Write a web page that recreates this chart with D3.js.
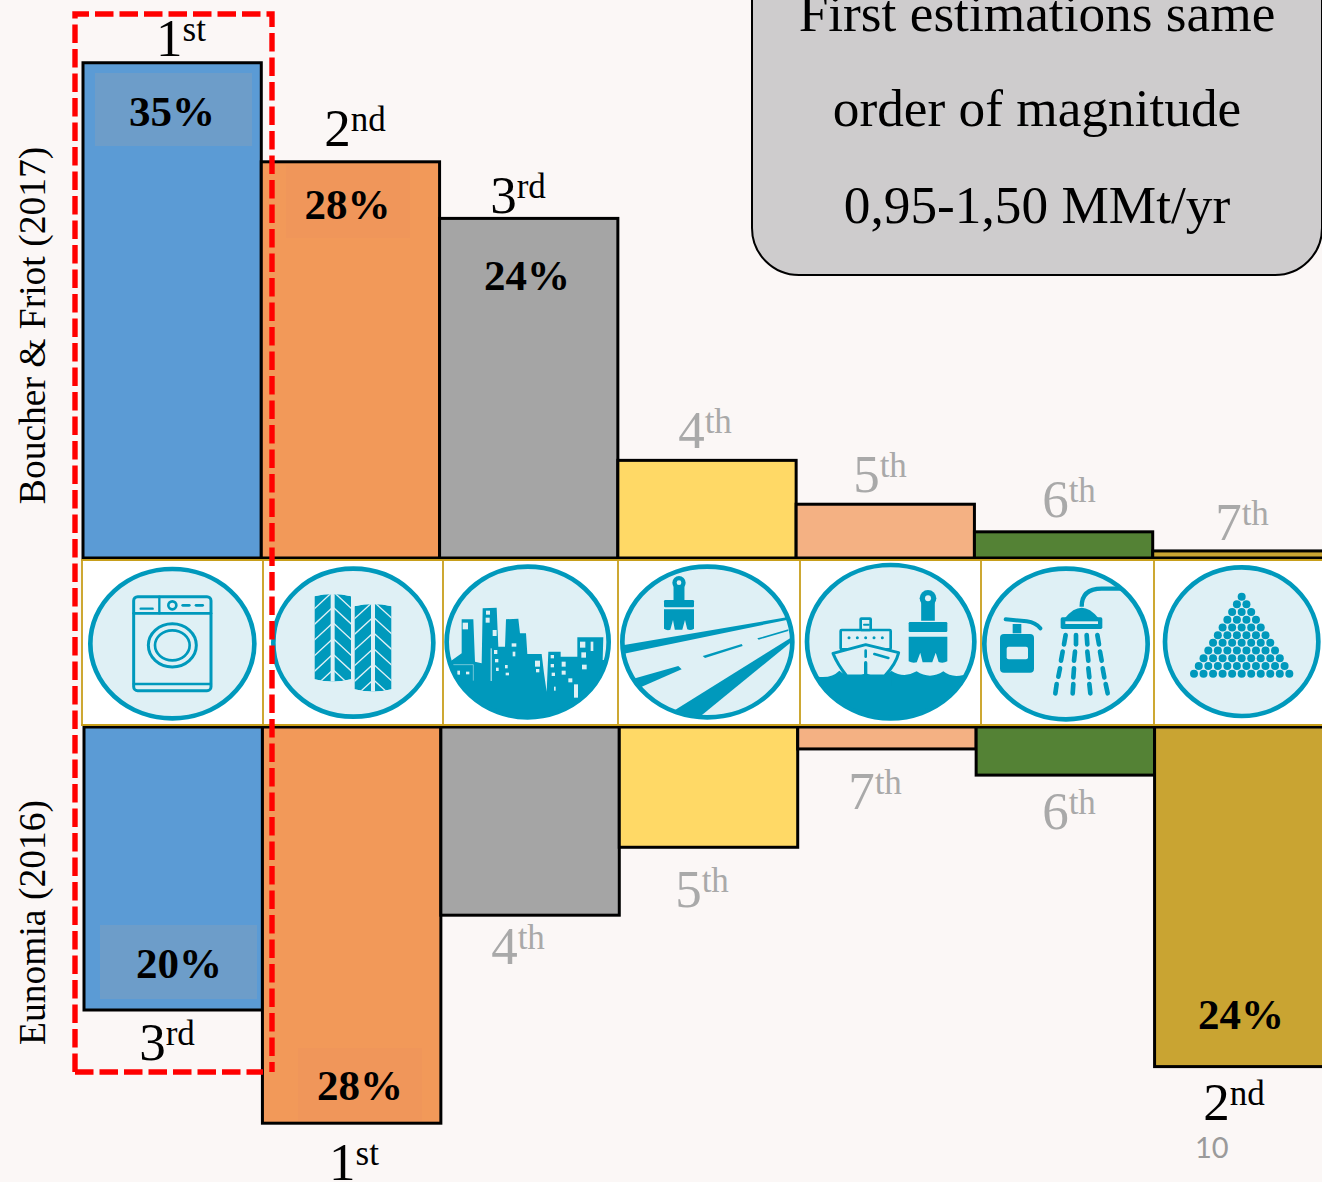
<!DOCTYPE html>
<html>
<head>
<meta charset="utf-8">
<script src="https://cdn.jsdelivr.net/npm/d3@7/dist/d3.min.js"></script>
<style>
  html, body { margin: 0; padding: 0; background: #fbf7f6; overflow: hidden; }
  svg { display: block; }
  text { font-family: "Liberation Serif", "Times New Roman", serif; }
</style>
</head>
<body>
<svg id="chart" width="1322" height="1182"></svg>
<script>
// Microplastic sources ranked by share in two estimates.
const sources = ["Laundry", "Tyres", "City dust", "Road markings", "Marine coatings", "Personal care", "Pellets"];
const boucherShares = [35, 28, 24, 6.9, 3.8, 1.85, 0.5];
const eunomiaShares = [20, 28, 13.3, 8.5, 1.55, 3.4, 24];
const boucherRanks = ["1st", "2nd", "3rd", "4th", "5th", "6th", "7th"];
const eunomiaRanks = ["3rd", "1st", "4th", "5th", "7th", "6th", "2nd"];
const statedShares = {boucher: [35, 28, 24], eunomia: [20, 28, null, null, null, null, 24]};
const calloutLines = ["First estimations same", "order of magnitude", "0,95-1,50 MMt/yr"];
const sourceColors = ["#5b9bd5", "#f29959", "#a5a5a5", "#ffd966", "#f4b183", "#548235", "#c9a432"];

const TEAL = "#0099bc", PALE = "#dff0f5", GOLD = "#c89f1c";
const svg = d3.select("#chart");

const xUpper = d3.scaleBand().domain(sources).range([83, 1331]);
const xLower = d3.scaleBand().domain(sources).range([84, 1333]);
const shareHeight = d3.scaleLinear().domain([0, 35]).range([0, 495.25]);
const TOP_BASE = 558, BOTTOM_BASE = 727;

// Bars above and below the icon strip
const barLayer = svg.append("g").attr("stroke", "#000").attr("stroke-width", 3);
barLayer.selectAll("rect.top").data(sources).join("rect").attr("class", "top")
  .attr("x", d => xUpper(d)).attr("width", xUpper.bandwidth())
  .attr("y", (d, i) => TOP_BASE - shareHeight(boucherShares[i]))
  .attr("height", (d, i) => shareHeight(boucherShares[i]))
  .attr("fill", (d, i) => sourceColors[i]);
barLayer.selectAll("rect.bottom").data(sources).join("rect").attr("class", "bottom")
  .attr("x", d => xLower(d)).attr("width", xLower.bandwidth())
  .attr("y", BOTTOM_BASE)
  .attr("height", (d, i) => shareHeight(eunomiaShares[i]))
  .attr("fill", (d, i) => sourceColors[i]);

// Soft plates behind the headline percentages
[[95, 73, 157, 73, "#6d9dc9"], [286, 165, 124, 73, "#f0965a"],
 [100, 925, 157, 74, "#6d9dc9"], [298, 1048, 124, 73, "#f0965a"]].forEach(p => {
  svg.append("rect").attr("x", p[0]).attr("y", p[1]).attr("width", p[2]).attr("height", p[3]).attr("fill", p[4]);
});

// Icon strip
const strip = svg.append("g");
strip.append("rect").attr("x", 81).attr("y", 560).attr("width", 1250).attr("height", 165).attr("fill", "#fff");
[82, 263, 443, 618, 800, 981, 1154].forEach(e =>
  strip.append("line").attr("x1", e).attr("x2", e).attr("y1", 560).attr("y2", 725)
    .attr("stroke", GOLD).attr("stroke-width", 1.8));
[560, 725].forEach(y =>
  strip.append("line").attr("x1", 81).attr("x2", 1322).attr("y1", y).attr("y2", y)
    .attr("stroke", GOLD).attr("stroke-width", 2));

// Each icon is drawn in a 3x local grid, then scaled down into its cell.
function iconGroup(ox, oy, id, cx, cy, rx, ry) {
  const g = strip.append("g").attr("transform", `translate(${ox},${oy}) scale(${1 / 3})`);
  g.append("clipPath").attr("id", id).append("ellipse")
    .attr("cx", cx).attr("cy", cy).attr("rx", rx).attr("ry", ry);
  g.append("ellipse").attr("cx", cx).attr("cy", cy).attr("rx", rx).attr("ry", ry).attr("fill", PALE);
  const inner = g.append("g").attr("clip-path", `url(#${id})`);
  g.ring = () => g.append("ellipse").attr("cx", cx).attr("cy", cy).attr("rx", rx).attr("ry", ry)
    .attr("fill", "none").attr("stroke", TEAL).attr("stroke-width", 14);
  g.inner = inner;
  return g;
}
const line = (g, x1, y1, x2, y2, w, col) => g.append("line")
  .attr("x1", x1).attr("y1", y1).attr("x2", x2).attr("y2", y2)
  .attr("stroke", col || TEAL).attr("stroke-width", w).attr("stroke-linecap", "round");
const poly = (g, pts, col) => g.append("polygon").attr("points", pts.map(p => p.join(",")).join(" ")).attr("fill", col || TEAL);
const box = (g, x0, y0, w, h, r, fill, stroke, sw) => g.append("rect")
  .attr("x", x0).attr("y", y0).attr("width", w).attr("height", h).attr("rx", r)
  .attr("fill", fill).attr("stroke", stroke || "none").attr("stroke-width", sw || 0);
const blob = (g, cx, cy, r, col) => g.append("circle").attr("cx", cx).attr("cy", cy).attr("r", r).attr("fill", col || TEAL);

// Washing machine
{
  const g = iconGroup(60, 540, "clip-wash", 337, 311, 246, 224);
  const n = g.inner;
  box(n, 221, 170, 232, 282, 12, "none", TEAL, 9);
  line(n, 221, 220, 453, 220, 8);
  line(n, 298, 170, 298, 220, 7);
  line(n, 242, 206, 278, 206, 7);
  n.append("circle").attr("cx", 337).attr("cy", 196).attr("r", 12).attr("fill", "none").attr("stroke", TEAL).attr("stroke-width", 8);
  line(n, 368, 196, 388, 196, 8);
  line(n, 408, 196, 428, 196, 8);
  n.append("ellipse").attr("cx", 337).attr("cy", 316).attr("rx", 72).attr("ry", 65).attr("fill", "none").attr("stroke", TEAL).attr("stroke-width", 9);
  n.append("ellipse").attr("cx", 337).attr("cy", 316).attr("rx", 52).attr("ry", 45).attr("fill", "none").attr("stroke", TEAL).attr("stroke-width", 8);
  line(n, 221, 432, 453, 432, 7);
  g.ring();
}

// Tyres
{
  const g = iconGroup(60, 540, "clip-tyre", 880, 308, 240, 222);
  const tyre = (x0, x1, y0, y1, id) => {
    const xm = (x0 + x1) / 2;
    const shape = `M${x0},${y0 + 6} Q${xm},${y0 - 8} ${x1},${y0 + 6} L${x1},${y1 - 6} Q${xm},${y1 + 8} ${x0},${y1 - 6} Z`;
    g.append("clipPath").attr("id", id).append("path").attr("d", shape);
    const t = g.append("g").attr("clip-path", `url(#${id})`);
    t.append("path").attr("d", shape).attr("fill", TEAL);
    for (let k = 0; k < 7; k++) {
      const y = y0 - 5 + k * 47;
      line(t, x0 - 4, y + 52, xm - 3, y, 4, PALE);
      line(t, xm + 3, y - 2, x1 + 4, y + 50, 4, PALE);
    }
    t.append("rect").attr("x", xm - 6).attr("y", y0 - 10).attr("width", 12).attr("height", y1 - y0 + 20).attr("fill", PALE);
  };
  tyre(763, 873, 163, 424, "tyre-a");
  tyre(883, 995, 193, 454, "tyre-b");
  g.ring();
}

// City skyline
{
  const g = iconGroup(440, 540, "clip-city", 263, 306, 243, 226);
  poly(g.inner, [[20, 372], [65, 340], [65, 238], [100, 238], [105, 365], [125, 370], [128, 205], [170, 203], [175, 320],
    [195, 320], [198, 238], [235, 236], [240, 280], [258, 280], [262, 342], [305, 342], [312, 400], [320, 455], [325, 335],
    [362, 335], [362, 350], [412, 350], [412, 292], [490, 292], [488, 360], [530, 360], [530, 560], [0, 560], [0, 372]]);
  [[68, 248, 16, 20], [138, 212, 12, 12], [137, 233, 12, 15], [158, 270, 12, 18], [215, 310, 14, 10], [218, 335, 8, 14],
   [162, 330, 10, 12], [165, 357, 10, 10], [168, 383, 8, 10], [195, 375, 8, 10], [197, 398, 10, 8], [285, 362, 15, 18],
   [288, 387, 10, 10], [332, 345, 10, 10], [332, 372, 10, 10], [335, 398, 10, 10], [365, 365, 12, 15], [365, 392, 12, 12],
   [385, 415, 12, 12], [420, 305, 16, 18], [452, 305, 8, 28], [424, 337, 14, 16], [426, 374, 14, 14], [402, 433, 12, 40],
   [342, 440, 5, 12], [52, 392, 8, 12], [78, 395, 10, 8], [152, 325, 3, 98]].forEach(w =>
    g.inner.append("rect").attr("x", w[0]).attr("y", w[1]).attr("width", w[2]).attr("height", w[3]).attr("fill", PALE));
  g.inner.append("path").attr("d", "M40,374 H100 V422").attr("fill", "none").attr("stroke", PALE).attr("stroke-width", 1.5);
  g.ring();
}

// Paint brush shared by the road and ship icons
function brush(n, cx, loopY, loopR, holeR, neckY, ferruleY, ferruleH, halfW, brY, brH) {
  const w = loopR * 0.82;
  poly(n, [[cx - w, loopY + 6], [cx + w, loopY + 6], [cx + w * 1.0, neckY], [cx - w * 1.0, neckY]]);
  blob(n, cx, loopY, loopR);
  blob(n, cx, loopY, holeR, PALE);
  box(n, cx - halfW, ferruleY, halfW * 2, ferruleH, 4, TEAL);
  const b = brY + brH;
  n.append("path").attr("d",
    `M${cx - halfW},${brY} H${cx + halfW} V${b - 4} Q${cx + halfW * 0.78},${b + 3} ${cx + halfW * 0.55},${b - 2}
     L${cx + halfW * 0.4},${b - 30} L${cx + halfW * 0.22},${b - 1} L${cx - halfW * 0.28},${b - 1} L${cx - halfW * 0.4},${b - 30}
     L${cx - halfW * 0.58},${b - 1} Q${cx - halfW * 0.8},${b + 3} ${cx - halfW},${b - 4} Z`).attr("fill", TEAL);
}

// Road with paint brush
{
  const g = iconGroup(440, 540, "clip-road", 802, 306, 255, 226);
  const n = g.inner;
  poly(n, [[548, 316], [1040, 232], [1040, 240], [548, 342]]);
  poly(n, [[575, 418], [715, 378], [725, 388], [595, 445]]);
  poly(n, [[788, 348], [905, 312], [908, 318], [795, 354]]);
  poly(n, [[952, 295], [1045, 268], [1045, 273], [956, 299]]);
  poly(n, [[705, 510], [1055, 292], [1055, 305], [785, 526], [760, 545], [700, 545]]);
  brush(n, 717, 128, 20, 7, 182, 180, 22, 45, 208, 62);
  g.ring();
}

// Ship and paint brush
{
  const g = iconGroup(800, 540, "clip-ship", 272, 305, 251, 230);
  const n = g.inner;
  n.append("path").attr("d",
    `M15,400 Q30,412 55,410 Q95,415 118,392 Q150,420 197,400 Q240,420 275,393 Q312,416 350,394 Q390,420 430,394 Q455,414 490,405
     L540,380 V560 H0 Z`).attr("fill", TEAL);
  box(n, 122, 270, 150, 58, 3, PALE, TEAL, 8);
  box(n, 182, 236, 30, 34, 2, PALE, TEAL, 8);
  line(n, 192, 254, 206, 254, 6);
  [147, 172, 197, 222, 247].forEach(cx => blob(n, cx, 293, 4.5));
  n.append("path").attr("d", "M99,340 L197,314 L296,338 Q288,372 254,408 L140,408 Q112,372 99,340 Z")
    .attr("fill", PALE).attr("stroke", TEAL).attr("stroke-width", 9).attr("stroke-linejoin", "round");
  n.append("path").attr("d", "M118,410 Q150,420 197,400 Q240,420 275,393 L275,440 L118,440 Z").attr("fill", TEAL);
  line(n, 197, 332, 197, 350, 8);
  line(n, 197, 368, 197, 402, 10);
  line(n, 223, 342, 265, 354, 8);
  brush(n, 384, 175, 25, 9, 242, 246, 30, 58, 290, 78);
  g.ring();
}

// Soap bottle and shower
{
  const g = iconGroup(800, 540, "clip-shower", 798, 312, 245, 226);
  const n = g.inner;
  n.append("path").attr("d", "M617,238 L680,244 Q708,248 721,265").attr("fill", "none").attr("stroke", TEAL).attr("stroke-width", 12).attr("stroke-linecap", "round");
  box(n, 638, 252, 26, 28, 0, TEAL);
  box(n, 600, 282, 102, 116, 12, TEAL);
  box(n, 620, 320, 64, 38, 6, PALE);
  n.append("path").attr("d", "M845,200 Q845,146 905,146 L970,146").attr("fill", "none").attr("stroke", TEAL).attr("stroke-width", 13);
  n.append("path").attr("d", "M795,234 Q845,172 895,234 Z").attr("fill", TEAL);
  box(n, 782, 232, 125, 35, 5, TEAL);
  box(n, 796, 244, 98, 8, 0, PALE);
  [[[797, 285, 792, 313], [828, 285, 828, 313], [860, 285, 862, 313], [892, 285, 897, 313]],
   [[788, 335, 783, 362], [825, 335, 822, 362], [862, 335, 865, 362], [900, 335, 905, 362]],
   [[780, 385, 775, 410], [822, 385, 820, 412], [865, 385, 868, 412], [908, 385, 913, 412]],
   [[770, 432, 766, 460], [820, 432, 818, 460], [868, 432, 871, 460], [917, 432, 923, 460]]]
    .forEach(row => row.forEach(d => line(n, d[0], d[1], d[2], d[3], 14)));
  g.ring();
}

// Pile of pellets
{
  const g = iconGroup(800, 540, "clip-pellet", 1325, 305, 230, 223);
  for (let row = 0; row < 11; row++) {
    for (let k = 0; k <= row; k++) {
      blob(g.inner, 1325 + (k - row / 2) * 28.6, 170 + row * 23.1, 12);
    }
  }
  g.ring();
}

// Study names
[["Boucher & Friot (2017)", 325.5], ["Eunomia (2016)", 922.5]].forEach(([label, cy]) => {
  svg.append("text").attr("transform", `translate(45,${cy}) rotate(-90)`)
    .attr("text-anchor", "middle").attr("font-size", 37.5).attr("fill", "#000").text(label);
});

// Rank labels with raised suffix
function rankLabel(label, cx, y, fill) {
  const t = svg.append("text").attr("x", cx).attr("y", y).attr("text-anchor", "middle").attr("fill", fill);
  t.append("tspan").attr("font-size", 53).text(label[0]);
  t.append("tspan").attr("font-size", 35).attr("dy", -15).text(label.slice(1));
}
const rankFill = r => (+r[0] <= 3 ? "#000" : "#a9a9a9");
const boucherRankX = [181, 355, 518, 705, 880, 1069, 1242], boucherRankY = [56, 146, 213, 448, 492, 517, 540];
const eunomiaRankX = [167, 354, 518, 702, 875, 1069, 1234], eunomiaRankY = [1060, 1180, 964, 907, 809, 829, 1120];
boucherRanks.forEach((r, i) => rankLabel(r, boucherRankX[i], boucherRankY[i], rankFill(r)));
eunomiaRanks.forEach((r, i) => rankLabel(r, eunomiaRankX[i], eunomiaRankY[i], rankFill(r)));

// Headline percentages
const pctLabel = (v, cx, y) => svg.append("text").attr("x", cx).attr("y", y).attr("text-anchor", "middle")
  .attr("font-size", 43).attr("font-weight", "bold").attr("fill", "#000").text(v + "%");
[[172, 126], [347.5, 219], [527, 290]].forEach((p, i) => pctLabel(statedShares.boucher[i], p[0], p[1]));
pctLabel(statedShares.eunomia[0], 179, 978);
pctLabel(statedShares.eunomia[1], 360, 1100);
pctLabel(statedShares.eunomia[6], 1241, 1029);

// Dashed highlight around the leading source
const DASH = "18.5,6";
svg.append("path").attr("d", "M75,1072 V14 H272 V1072").attr("fill", "none")
  .attr("stroke", "#ff0000").attr("stroke-width", 5.4).attr("stroke-dasharray", DASH);
svg.append("path").attr("d", "M75,1072 H263").attr("fill", "none")
  .attr("stroke", "#ff0000").attr("stroke-width", 5.4).attr("stroke-dasharray", DASH);

// Callout box
svg.append("rect").attr("x", 752).attr("y", -60).attr("width", 570).attr("height", 335).attr("rx", 47)
  .attr("fill", "#cecccd").attr("stroke", "#000").attr("stroke-width", 2);
calloutLines.forEach((l, i) => svg.append("text").attr("x", 1037).attr("y", [31, 126, 223][i])
  .attr("text-anchor", "middle").attr("font-size", 53.3).attr("fill", "#000").text(l));

// Slide number
svg.append("text").attr("x", 1195).attr("y", 1158).attr("font-size", 29)
  .style("font-family", "Lato, sans-serif").attr("fill", "#9a9a9a").text("10");
</script>
</body>
</html>
